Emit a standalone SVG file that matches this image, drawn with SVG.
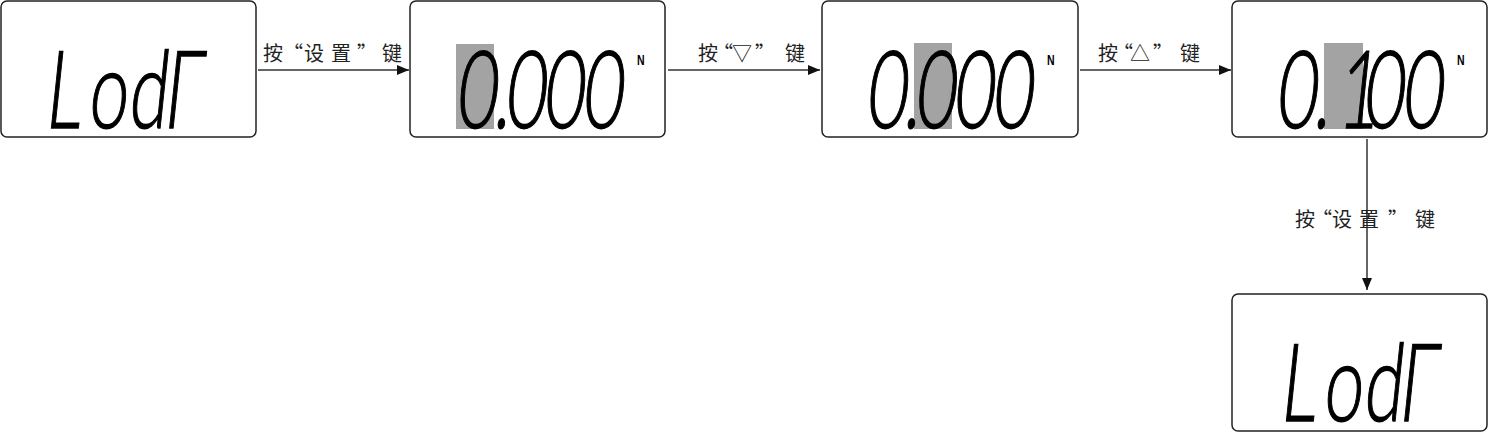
<svg xmlns="http://www.w3.org/2000/svg" width="1489" height="432" viewBox="0 0 1489 432">
<style>
.box{fill:#fff;stroke:#222;stroke-width:1.5}
.hl{fill:#a3a3a3}
.seg{font-family:Lato,"Liberation Sans",sans-serif;font-weight:300;font-size:108px;fill:#000;stroke:#000;stroke-width:1.4}
.unit{font-family:"Liberation Sans",Arial,sans-serif;font-size:14px;font-weight:bold;fill:#000}
.lbl{font-family:"Noto Sans CJK SC","Liberation Sans",sans-serif;font-size:20px;fill:#222}
.con{stroke:#333;stroke-width:1.5;fill:none}
</style>
<defs>
<marker id="ah" viewBox="0 0 12 10" refX="12" refY="5" markerWidth="12" markerHeight="10" markerUnits="userSpaceOnUse" orient="auto">
<path d="M0,0 L12,5 L0,10 z" fill="#111"/>
</marker>
</defs>
<rect width="1489" height="432" fill="#fff"/>

<g id="node-lodr-1">
<rect class="box" x="1" y="1" width="255" height="136" rx="6"/>
<text class="seg" transform="translate(44,128) skewX(-6) scale(0.65,1)" x="0 66 128 182">LodГ</text>
</g>

<g id="node-0000-a">
<rect class="box" x="410" y="1" width="255" height="136" rx="6"/>
<rect class="hl" x="456" y="44" width="38" height="85"/>
<text class="seg" transform="translate(455,128) skewX(-6) scale(0.65,1)" x="0 58 75 134 194">0.000</text>
<text class="unit" transform="translate(637,65) scale(0.75,1)">N</text>
</g>

<g id="node-0000-b">
<rect class="box" x="822" y="1" width="256" height="136" rx="6"/>
<rect class="hl" x="914" y="43" width="38" height="86"/>
<text class="seg" transform="translate(865,128) skewX(-6) scale(0.65,1)" x="0 58 75 134 194">0.000</text>
<text class="unit" transform="translate(1047,65) scale(0.75,1)">N</text>
</g>

<g id="node-0100">
<rect class="box" x="1232" y="1" width="255" height="136" rx="6"/>
<rect class="hl" x="1324" y="43" width="39" height="86"/>
<text class="seg" transform="translate(1275,128) skewX(-6) scale(0.65,1)" x="0 58 95 134 194">0.100</text>
<text class="unit" transform="translate(1457,65) scale(0.75,1)">N</text>
</g>

<g id="node-lodr-2">
<rect class="box" x="1232" y="294" width="255" height="137" rx="6"/>
<text class="seg" transform="translate(1279,421) skewX(-6) scale(0.65,1)" x="0 66 128 182">LodГ</text>
</g>

<g id="connectors">
<line class="con" x1="258" y1="70" x2="409" y2="70" marker-end="url(#ah)"/>
<line class="con" x1="668" y1="70" x2="820" y2="70" marker-end="url(#ah)"/>
<line class="con" x1="1080" y1="70" x2="1231" y2="70" marker-end="url(#ah)"/>
<line class="con" x1="1367" y1="139" x2="1367" y2="290" marker-end="url(#ah)"/>
</g>

<g id="labels">
<text class="lbl" x="263 283 304 331 357 382" y="61">按“设置”键</text>
<text class="lbl" x="698 713 732 755 785" y="61">按“▽”键</text>
<text class="lbl" x="1098 1113 1130 1153 1180" y="61">按“△”键</text>
<text class="lbl" x="1295 1312 1332 1359 1388 1415" y="227">按“设置”键</text>
</g>
</svg>
